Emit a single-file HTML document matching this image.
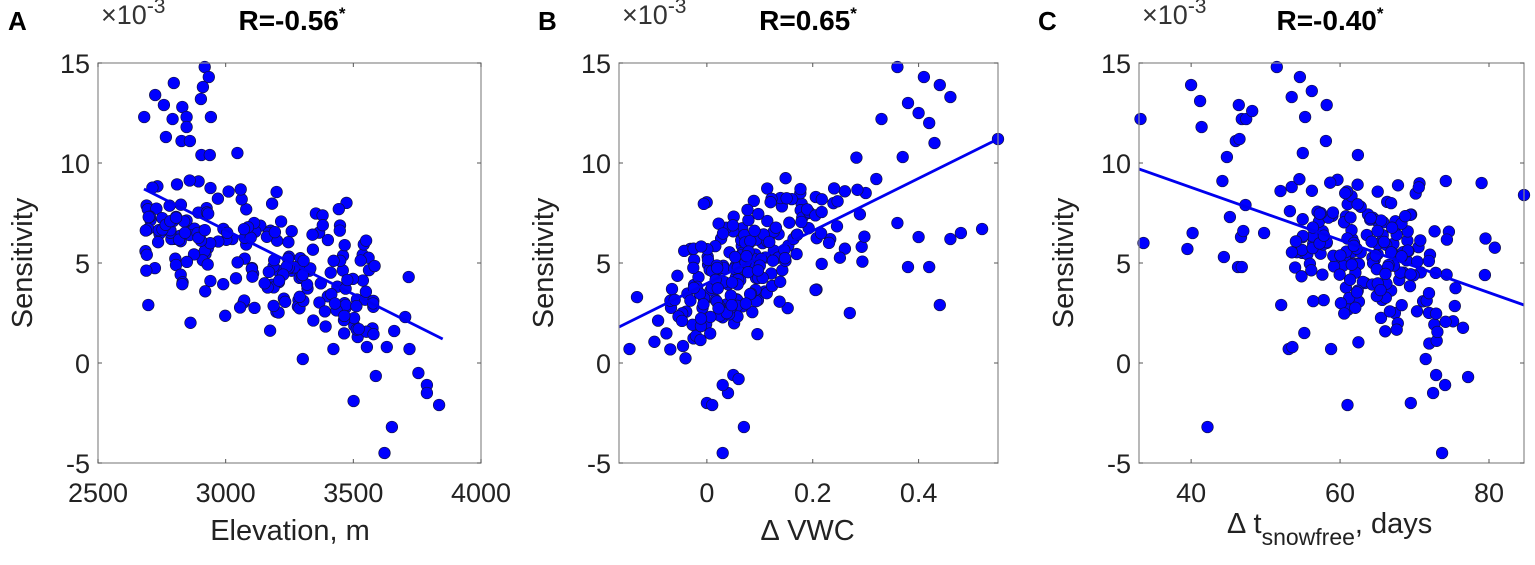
<!DOCTYPE html>
<html><head><meta charset="utf-8"><style>
html,body{margin:0;padding:0;background:#fff;}
svg{display:block;font-family:"Liberation Sans",Arial,sans-serif;}
</style></head><body>
<svg id="s" width="1535" height="565" xmlns="http://www.w3.org/2000/svg"></svg>
<script>
const S=document.getElementById('s');let h='';
function rng(a){return function(){a|=0;a=a+0x6D2B79F5|0;let t=Math.imul(a^a>>>15,1|a);t=t+Math.imul(t^t>>>7,61|t)^t;return((t^t>>>14)>>>0)/4294967296;}}
function gauss(r){let u=0;for(let i=0;i<6;i++)u+=r();return (u-3)/Math.sqrt(0.5);}
const TOP=63,BOT=463;
function Y(v){return BOT-(v+5)*20;}
function panel(o){
 const X=v=>o.x0+(v-o.xmin)/(o.xmax-o.xmin)*(o.x1-o.x0);
 for(const p of o.pts){const cx=X(p[0]),cy=Y(p[1]);if(cx<o.x0-2||cx>o.x1+2||cy<TOP-2||cy>BOT+2)continue;
  h+=`<circle cx="${cx.toFixed(1)}" cy="${cy.toFixed(1)}" r="5.8" fill="#0000ff" stroke="#101040" stroke-width="0.7"/>`;}
 h+=`<line x1="${X(o.l[0])}" y1="${Y(o.l[1])}" x2="${X(o.l[2])}" y2="${Y(o.l[3])}" stroke="#0000ee" stroke-width="2.8"/>`;
 h+=`<rect x="${o.x0}" y="${TOP}" width="${o.x1-o.x0}" height="${BOT-TOP}" fill="none" stroke="#8a8a8a" stroke-width="1.2"/>`;
 for(const t of o.xt){const x=X(t[0]);h+=`<line x1="${x}" y1="${BOT}" x2="${x}" y2="${BOT-4}" stroke="#555"/><line x1="${x}" y1="${TOP}" x2="${x}" y2="${TOP+4}" stroke="#555"/><text x="${x}" y="502" font-size="27" text-anchor="middle" fill="#222">${t[1]}</text>`;}
 for(const v of [15,10,5,0,-5]){const y=Y(v);h+=`<line x1="${o.x0}" y1="${y}" x2="${o.x0+4}" y2="${y}" stroke="#555"/><line x1="${o.x1}" y1="${y}" x2="${o.x1-4}" y2="${y}" stroke="#555"/><text x="${o.x0-8}" y="${y+10}" font-size="27" text-anchor="end" fill="#222">${v}</text>`;}
 h+=`<text x="${o.x0+3}" y="24" font-size="27" fill="#333">×10<tspan dy="-11" font-size="21">-3</tspan></text>`;
 h+=`<text x="${o.tx}" y="30" font-size="28" font-weight="bold" text-anchor="middle">${o.title}<tspan dy="-11" font-size="17">*</tspan></text>`;
 h+=`<text x="${o.lx}" y="30" font-size="26" font-weight="bold">${o.letter}</text>`;
 h+=`<text transform="translate(${o.x0-66},263) rotate(-90)" font-size="29" text-anchor="middle" fill="#222">Sensitivity</text>`;
 h+=o.xl;
}
function bounded(r,f,lo,hi){for(let k=0;k<20;k++){const y=f();if(y>=lo&&y<=hi)return y;}return (lo+hi)/2;}
let r=rng(7),pa=[[2681,12.3],[2724,13.4],[2797,14.0],[2918,14.8],[2934,14.3],[2942,12.3],[2903,13.2],[2911,13.8],[2766,11.3],[2827,11.1],[2860,11.1],[2905,10.4],[2938,10.4],[3046,10.5],[2830,12.8],[2847,12.3],[2758,12.9],[2792,12.2],[2847,11.8],[2697,2.9],[3302,0.2],[3501,-1.9],[3588,-0.65],[3622,-4.5],[3651,-3.2],[3755,-0.5],[3788,-1.1],[3788,-1.5],[3836,-2.1],[3720,0.7],[3631,0.8],[3553,0.8],[3422,0.7],[3717,4.3],[3703,2.3],[3660,1.6],[3517,1.3]];
for(let i=0;i<210;i++){let x=2685+Math.pow(r(),1.15)*900;let y=bounded(r,()=>7.6-(x-2680)*0.0055+gauss(r)*1.8,1.3,9.2);pa.push([x,y]);}
panel({x0:98,x1:481,xmin:2500,xmax:4000,pts:pa,l:[2680,8.7,3850,1.2],xt:[[2500,2500],[3000,3000],[3500,3500],[4000,4000]],title:"R=-0.56",tx:292,letter:"A",lx:8,
 xl:`<text x="290" y="540" font-size="29" text-anchor="middle" fill="#222">Elevation, m</text>`});
r=rng(11);let pb=[[0.0,-2.0],[0.01,-2.1],[0.03,-4.5],[0.07,-3.2],[0.05,-0.6],[0.06,-0.8],[0.04,-1.5],[0.03,-1.1],[0.44,2.9],[0.27,2.5],[0.52,6.7],[0.55,11.2],[0.36,14.8],[0.41,14.3],[0.44,13.9],[0.46,13.3],[0.38,13.0],[0.40,12.5],[0.42,12.0],[0.33,12.2],[0.37,10.3],[0.43,11.0],[0.36,7.0],[0.38,4.8],[0.40,6.3],[0.46,6.2],[0.42,4.8],[0.48,6.5],[0.30,8.5],[0.32,9.2]];
for(let i=0;i<190;i++){let x=0.06+gauss(r)*0.075;x=Math.max(-0.16,Math.min(0.32,x));let y=bounded(r,()=>1.8+(x+0.166)*13.1+gauss(r)*1.6,0,9.3);pb.push([x,y]);}
for(let i=0;i<25;i++){let x=0.15+r()*0.15;let y=7+gauss(r)*1.3;pb.push([x,y]);}
panel({x0:619,x1:998,xmin:-0.166,xmax:0.55,pts:pb,l:[-0.166,1.8,0.55,11.2],xt:[[0,0],[0.2,0.2],[0.4,0.4]],title:"R=0.65",tx:808,letter:"B",lx:538,
 xl:`<text x="808" y="540" font-size="29" text-anchor="middle" fill="#222">∆ VWC</text>`});
r=rng(23);let pc=[[33.2,12.2],[33.6,6.0],[40,13.9],[41.2,13.1],[41.4,11.8],[42.2,-3.2],[39.5,5.7],[40.2,6.5],[44.2,9.1],[44.8,10.3],[46.0,11.1],[46.5,11.2],[46.8,12.2],[47.4,12.2],[46.4,12.9],[48.2,12.6],[45.2,7.3],[47.3,7.9],[46.7,6.3],[47,6.6],[44.4,5.3],[46.3,4.8],[46.8,4.8],[49.8,6.5],[51.5,14.8],[53.5,13.3],[54.6,14.3],[56.2,13.6],[58.2,12.9],[55.3,12.3],[58.1,11.1],[55.0,10.5],[62.4,10.4],[52.1,2.9],[55.2,1.5],[53.1,0.7],[53.6,0.8],[58.8,0.7],[61,-2.1],[69.5,-2.0],[71.5,0.2],[72.9,-0.6],[72.5,-1.5],[74.1,-1.1],[73.7,-4.5],[77.2,-0.7],[84.7,8.4],[79,9.0],[74.2,9.1],[52,8.6],[53.5,8.8]];
for(let i=0;i<190;i++){let x=bounded(r,()=>65+gauss(r)*6.5,53,82.5);let y=bounded(r,()=>5.6-(x-65)*0.1+gauss(r)*1.9,0.9,9.2);pc.push([x,y]);}
panel({x0:1139,x1:1524,xmin:33,xmax:84.7,pts:pc,l:[33,9.7,84.7,2.9],xt:[[40,40],[60,60],[80,80]],title:"R=-0.40",tx:1330,letter:"C",lx:1038,
 xl:`<text x="1330" y="533" font-size="29" text-anchor="middle" fill="#222">∆ t<tspan font-size="23" dy="12">snowfree</tspan><tspan dy="-12">, days</tspan></text>`});
S.innerHTML=h;
</script>
</body></html>
